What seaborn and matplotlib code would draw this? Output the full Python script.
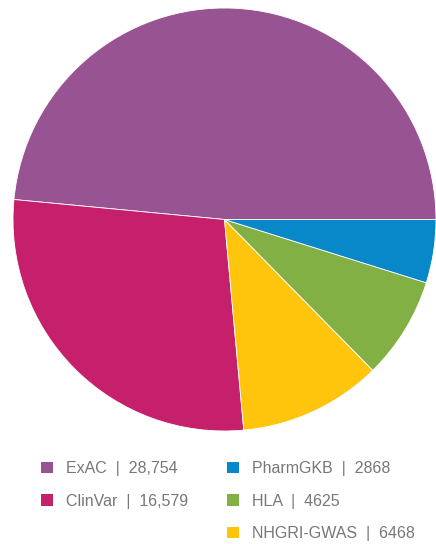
import matplotlib
matplotlib.use("Agg")
import matplotlib.pyplot as plt
from matplotlib.patches import Patch
import seaborn as sns

sns.set_theme(style="white")
plt.rcParams['font.family'] = ['Liberation Sans', 'DejaVu Sans']

categories = ["ExAC", "ClinVar", "NHGRI-GWAS", "HLA", "PharmGKB"]
values = [28754, 16579, 6468, 4625, 2868]
value_labels = ["28,754", "16,579", "6468", "4625", "2868"]
colors = ["#985392", "#c6206c", "#fec50c", "#82b044", "#0888c8"]

fig = plt.figure(figsize=(4.36, 5.44), dpi=100)
ax = fig.add_axes([13/436, (544-431)/544, 423/436, 423/544])
ax.pie(values, colors=colors, startangle=0, counterclock=True,
       wedgeprops=dict(edgecolor="white", linewidth=0.6))
ax.set_xlim(-1.0, 1.0)
ax.set_ylim(-1.0, 1.0)
ax.set_aspect("equal")
ax.axis("off")

lab = {c: f"{c}  |  {v}" for c, v in zip(categories, value_labels)}
col = dict(zip(categories, colors))
order = ["ExAC", "ClinVar", None, "PharmGKB", "HLA", "NHGRI-GWAS"]
handles, labels = [], []
for c in order:
    if c is None:
        handles.append(Patch(facecolor="none", edgecolor="none"))
        labels.append("")
    else:
        handles.append(Patch(facecolor=col[c], edgecolor="none"))
        labels.append(lab[c])

leg = fig.legend(handles, labels, ncol=2, loc="upper left",
                 bbox_to_anchor=(41/436, 1 - 461/544), frameon=False,
                 fontsize=11.5, handlelength=0.72, handleheight=0.72,
                 handletextpad=0.85, labelspacing=1.1, columnspacing=2.45,
                 borderaxespad=0, borderpad=0)
for t in leg.get_texts():
    t.set_color("#777777")

fig.savefig("out.png", dpi=100)
